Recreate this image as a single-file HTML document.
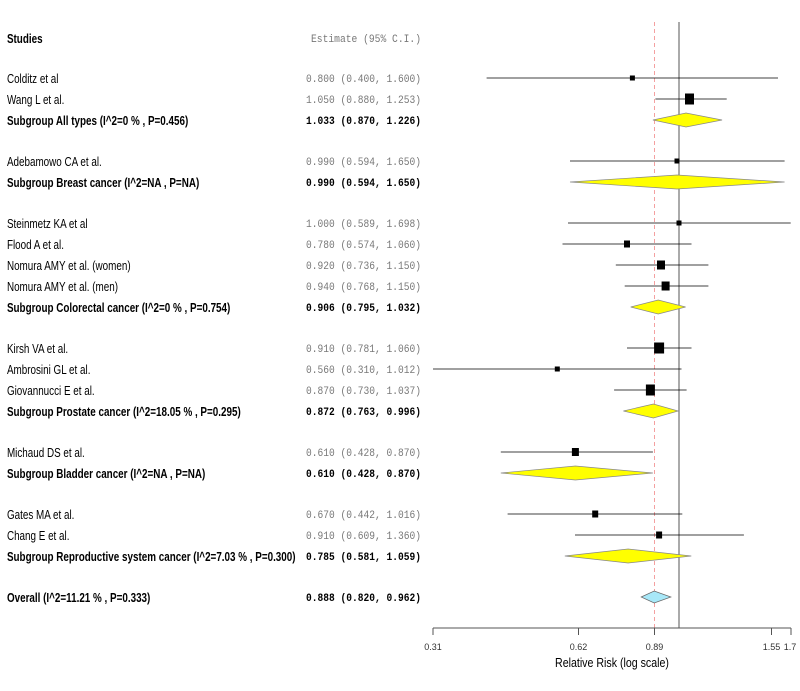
<!DOCTYPE html>
<html><head><meta charset="utf-8"><style>
body{margin:0;background:#fff}
svg{display:block}
.l{font-family:"Liberation Sans",sans-serif;font-size:12.5px;fill:#000}
.b{font-weight:bold}
.m{font-family:"Liberation Mono",monospace;font-size:11px;fill:#777}
.mb{font-weight:bold;fill:#000}
.ax{font-family:"Liberation Sans",sans-serif;font-size:9px;fill:#333}
</style></head><body>
<svg width="800" height="691" xmlns="http://www.w3.org/2000/svg">
<g transform="scale(0.79,1)">
<text class="l b" x="8.8" y="43">Studies</text>
<text class="l" x="8.8" y="83">Colditz et al</text>
<text class="l" x="8.8" y="104">Wang L et al.</text>
<text class="l b" x="8.8" y="125">Subgroup All types (I^2=0 % , P=0.456)</text>
<text class="l" x="8.8" y="166">Adebamowo CA et al.</text>
<text class="l b" x="8.8" y="187">Subgroup Breast cancer (I^2=NA , P=NA)</text>
<text class="l" x="8.8" y="228">Steinmetz KA et al</text>
<text class="l" x="8.8" y="249">Flood A et al.</text>
<text class="l" x="8.8" y="270">Nomura AMY et al. (women)</text>
<text class="l" x="8.8" y="291">Nomura AMY et al. (men)</text>
<text class="l b" x="8.8" y="312">Subgroup Colorectal cancer (I^2=0 % , P=0.754)</text>
<text class="l" x="8.8" y="353">Kirsh VA et al.</text>
<text class="l" x="8.8" y="374">Ambrosini GL et al.</text>
<text class="l" x="8.8" y="395">Giovannucci E et al.</text>
<text class="l b" x="8.8" y="416">Subgroup Prostate cancer (I^2=18.05 % , P=0.295)</text>
<text class="l" x="8.8" y="457">Michaud DS et al.</text>
<text class="l b" x="8.8" y="478">Subgroup Bladder cancer (I^2=NA , P=NA)</text>
<text class="l" x="8.8" y="519">Gates MA et al.</text>
<text class="l" x="8.8" y="540">Chang E et al.</text>
<text class="l b" x="8.8" y="561">Subgroup Reproductive system cancer (I^2=7.03 % , P=0.300)</text>
<text class="l b" x="8.8" y="602">Overall (I^2=11.21 % , P=0.333)</text>
</g>
<text class="m" x="311" y="42" textLength="110" lengthAdjust="spacingAndGlyphs">Estimate (95% C.I.)</text>
<g>
<text class="m" x="306" y="82" textLength="115" lengthAdjust="spacingAndGlyphs">0.800 (0.400, 1.600)</text>
<text class="m" x="306" y="103" textLength="115" lengthAdjust="spacingAndGlyphs">1.050 (0.880, 1.253)</text>
<text class="m mb" x="306" y="124" textLength="115" lengthAdjust="spacingAndGlyphs">1.033 (0.870, 1.226)</text>
<text class="m" x="306" y="165" textLength="115" lengthAdjust="spacingAndGlyphs">0.990 (0.594, 1.650)</text>
<text class="m mb" x="306" y="186" textLength="115" lengthAdjust="spacingAndGlyphs">0.990 (0.594, 1.650)</text>
<text class="m" x="306" y="227" textLength="115" lengthAdjust="spacingAndGlyphs">1.000 (0.589, 1.698)</text>
<text class="m" x="306" y="248" textLength="115" lengthAdjust="spacingAndGlyphs">0.780 (0.574, 1.060)</text>
<text class="m" x="306" y="269" textLength="115" lengthAdjust="spacingAndGlyphs">0.920 (0.736, 1.150)</text>
<text class="m" x="306" y="290" textLength="115" lengthAdjust="spacingAndGlyphs">0.940 (0.768, 1.150)</text>
<text class="m mb" x="306" y="311" textLength="115" lengthAdjust="spacingAndGlyphs">0.906 (0.795, 1.032)</text>
<text class="m" x="306" y="352" textLength="115" lengthAdjust="spacingAndGlyphs">0.910 (0.781, 1.060)</text>
<text class="m" x="306" y="373" textLength="115" lengthAdjust="spacingAndGlyphs">0.560 (0.310, 1.012)</text>
<text class="m" x="306" y="394" textLength="115" lengthAdjust="spacingAndGlyphs">0.870 (0.730, 1.037)</text>
<text class="m mb" x="306" y="415" textLength="115" lengthAdjust="spacingAndGlyphs">0.872 (0.763, 0.996)</text>
<text class="m" x="306" y="456" textLength="115" lengthAdjust="spacingAndGlyphs">0.610 (0.428, 0.870)</text>
<text class="m mb" x="306" y="477" textLength="115" lengthAdjust="spacingAndGlyphs">0.610 (0.428, 0.870)</text>
<text class="m" x="306" y="518" textLength="115" lengthAdjust="spacingAndGlyphs">0.670 (0.442, 1.016)</text>
<text class="m" x="306" y="539" textLength="115" lengthAdjust="spacingAndGlyphs">0.910 (0.609, 1.360)</text>
<text class="m mb" x="306" y="560" textLength="115" lengthAdjust="spacingAndGlyphs">0.785 (0.581, 1.059)</text>
<text class="m mb" x="306" y="601" textLength="115" lengthAdjust="spacingAndGlyphs">0.888 (0.820, 0.962)</text>
</g>
<line x1="679" y1="22" x2="679" y2="628" stroke="#555" stroke-width="1"/>
<line x1="654.5" y1="22" x2="654.5" y2="628" stroke="#f4a0a0" stroke-width="1" stroke-dasharray="4,3"/>
<g stroke="#000" stroke-width="0.8">
<line x1="486.6" y1="78" x2="778" y2="78"/>
<line x1="655.4" y1="99" x2="726.7" y2="99"/>
<line x1="570" y1="161" x2="784.6" y2="161"/>
<line x1="568" y1="223" x2="790.7" y2="223"/>
<line x1="562.5" y1="244" x2="691.5" y2="244"/>
<line x1="615.8" y1="265" x2="708.4" y2="265"/>
<line x1="624.7" y1="286" x2="708.4" y2="286"/>
<line x1="627" y1="348" x2="691.5" y2="348"/>
<line x1="433" y1="369" x2="681.5" y2="369"/>
<line x1="614.1" y1="390" x2="686.6" y2="390"/>
<line x1="500.8" y1="452" x2="652.9" y2="452"/>
<line x1="507.6" y1="514" x2="682.3" y2="514"/>
<line x1="575" y1="535" x2="743.9" y2="535"/>
</g>
<g fill="#000">
<rect x="629.9" y="75.5" width="5" height="5"/>
<rect x="685" y="93.5" width="9" height="11"/>
<rect x="674.5" y="158.5" width="5" height="5"/>
<rect x="676.5" y="220.5" width="5" height="5"/>
<rect x="624" y="240.5" width="6" height="7"/>
<rect x="657" y="260.5" width="8" height="9"/>
<rect x="661.6" y="281.5" width="8" height="9"/>
<rect x="654.1" y="342.5" width="10" height="11"/>
<rect x="554.8" y="366.5" width="5" height="5"/>
<rect x="645.9" y="384.5" width="9" height="11"/>
<rect x="571.9" y="448" width="7" height="8"/>
<rect x="592.2" y="510.5" width="6" height="7"/>
<rect x="656.1" y="531.5" width="6" height="7"/>
</g>
<g fill="#ffff00" stroke="#888" stroke-width="0.7">
<polygon points="652.9,120 686,113 722.1,120 686,127"/>
<polygon points="570,182 677,175 784.6,182 677,189"/>
<polygon points="630.7,307 658.2,300 685.6,307 658.2,314"/>
<polygon points="623.4,411 653.4,404 678.2,411 653.4,418"/>
<polygon points="500.8,473 575.4,466 652.9,473 575.4,480"/>
<polygon points="564.8,556 628.1,549 691.3,556 628.1,563"/>
</g>
<polygon points="641.2,597 654.2,591 670.9,597 654.2,603" fill="#a8e8f8" stroke="#666" stroke-width="0.7"/>
<g stroke="#555" stroke-width="1">
<line x1="433" y1="628" x2="791" y2="628"/>
<line x1="433" y1="628" x2="433" y2="635"/>
<line x1="578.5" y1="628" x2="578.5" y2="635"/>
<line x1="654.5" y1="628" x2="654.5" y2="635"/>
<line x1="771.5" y1="628" x2="771.5" y2="635"/>
<line x1="791" y1="628" x2="791" y2="635"/>
</g>
<text class="ax" x="433" y="650" text-anchor="middle">0.31</text>
<text class="ax" x="578.5" y="650" text-anchor="middle">0.62</text>
<text class="ax" x="654.5" y="650" text-anchor="middle">0.89</text>
<text class="ax" x="771.5" y="650" text-anchor="middle">1.55</text>
<text class="ax" x="790" y="650" text-anchor="middle">1.7</text>
<text x="612" y="667" text-anchor="middle" font-family="Liberation Sans,sans-serif" font-size="12.5" fill="#000" transform="translate(612,0) scale(0.85,1) translate(-612,0)">Relative Risk (log scale)</text>
</svg>
</body></html>
